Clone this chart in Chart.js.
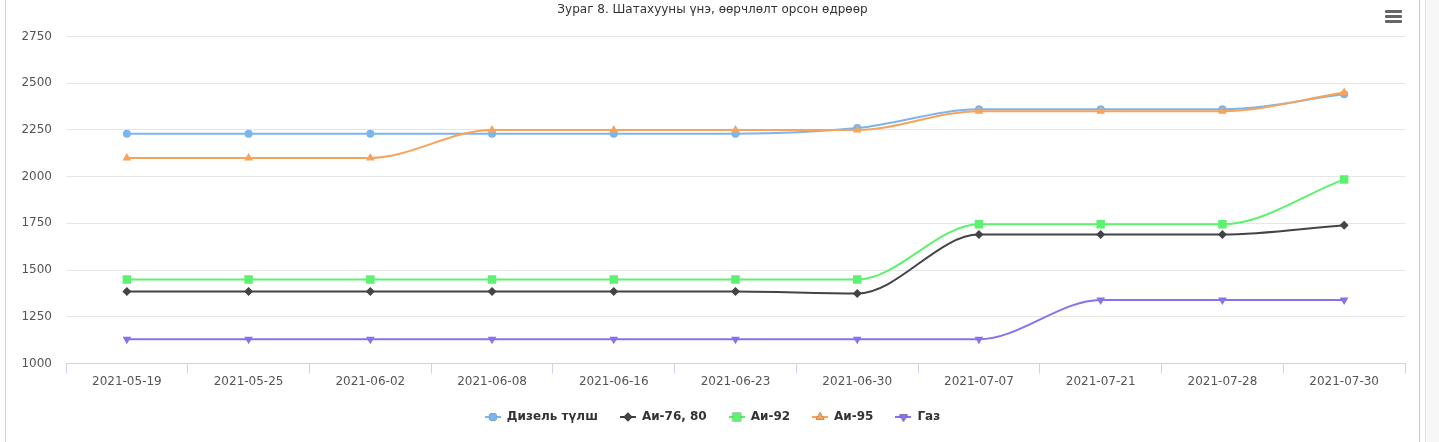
<!DOCTYPE html>
<html>
<head>
<meta charset="utf-8">
<script src="https://cdn.jsdelivr.net/npm/chart.js@4.4.1/dist/chart.umd.min.js"></script>
<style>
  html, body { margin: 0; padding: 0; background: #fff; }
  body { width: 1439px; height: 442px; position: relative; overflow: hidden; font-family: "DejaVu Sans", Verdana, sans-serif; }
  #frame { position: absolute; left: 5px; top: 0; width: 1413px; height: 442px; border-left: 1px solid #d6d6d6; border-right: 1px solid #c8c8c8; }
  #side { position: absolute; left: 1425px; top: 0; width: 14px; height: 442px; background: #f7f7f7; border-left: 1px solid #e4e4e4; }
  #wrap { position: absolute; left: 0; top: 0; width: 1413px; height: 442px; }
  #menu { position: absolute; left: 1379px; top: 10px; width: 17px; }
  #menu span { display: block; height: 2.5px; background: #666; margin-bottom: 2.5px; border-radius: 1px; }
</style>
</head>
<body>
<div id="frame">
  <div id="wrap"><canvas id="fuelChart"></canvas></div>
  <div id="menu"><span></span><span></span><span></span></div>
</div>
<div id="side"></div>
<script>
// огноо
const dates = ['2021-05-19', '2021-05-25', '2021-06-02', '2021-06-08', '2021-06-16', '2021-06-23',
               '2021-06-30', '2021-07-07', '2021-07-21', '2021-07-28', '2021-07-30'];

const diesel = [2230, 2230, 2230, 2230, 2230, 2230, 2260, 2360, 2360, 2360, 2440];
const ai76   = [1385, 1385, 1385, 1385, 1385, 1385, 1375, 1690, 1690, 1690, 1740];
const ai92   = [1450, 1450, 1450, 1450, 1450, 1450, 1450, 1745, 1745, 1745, 1985];
const ai95   = [2100, 2100, 2100, 2250, 2250, 2250, 2250, 2350, 2350, 2350, 2450];
const gas    = [1130, 1130, 1130, 1130, 1130, 1130, 1130, 1130, 1340, 1340, 1340];

const yTicks = [1000, 1250, 1500, 1750, 2000, 2250, 2500, 2750];

const seriesNames  = ['Дизель түлш', 'Аи-76, 80', 'Аи-92', 'Аи-95', 'Газ'];
const seriesColors = ['#7cb5ec', '#434348', '#5cf26f', '#f7a35c', '#8473ec'];
const markers = [
    { style: 'circle', radius: 4, rotation: 0 },
    { style: 'rectRot', radius: 4.5, rotation: 0 },
    { style: 'rect', radius: 6, rotation: 0 },
    { style: 'triangle', radius: 5, rotation: 0 },
    { style: 'triangle', radius: 5, rotation: 180 }
];

// legend symbol: short line with marker, like the original
function legendSymbol(color, m) {
    const c = document.createElement('canvas');
    c.width = 16; c.height = 12;
    const g = c.getContext('2d');
    g.strokeStyle = color; g.lineWidth = 2;
    g.beginPath(); g.moveTo(0, 6); g.lineTo(16, 6); g.stroke();
    Chart.helpers.drawPoint(g, { pointStyle: m.style, radius: m.radius, rotation: m.rotation, borderWidth: 0 }, 8, 6);
    g.fillStyle = color;
    g.fill();
    return c;
}

const allSeries = [diesel, ai76, ai92, ai95, gas];

const ctx = document.getElementById('fuelChart').getContext('2d');
const fuelChart = new Chart(ctx, {
    type: 'line',
    data: {
        labels: dates,
        datasets: allSeries.map((vals, i) => ({
            label: seriesNames[i],
            data: vals,
            borderColor: seriesColors[i],
            backgroundColor: seriesColors[i],
            borderWidth: 2,
            pointStyle: markers[i].style,
            pointRadius: markers[i].radius,
            pointRotation: markers[i].rotation,
            pointBorderWidth: 0,
            cubicInterpolationMode: 'monotone',
            order: 4 - i,
            fill: false
        }))
    },
    options: {
        responsive: true,
        maintainAspectRatio: false,
        animation: false,
        layout: { padding: { left: 14, right: 14, top: 0, bottom: 9 } },
        plugins: {
            title: {
                display: true,
                text: 'Зураг 8. Шатахууны үнэ, өөрчлөлт орсон өдрөөр',
                color: '#333333',
                font: { family: 'DejaVu Sans', size: 12, weight: 'normal' },
                padding: { top: 3, bottom: 19 }
            },
            legend: {
                position: 'bottom',
                labels: {
                    usePointStyle: true,
                    pointStyleWidth: 16,
                    padding: 22,
                    color: '#333333',
                    font: { family: 'DejaVu Sans', size: 12, weight: 'bold' },
                    sort: (a, b) => a.datasetIndex - b.datasetIndex,
                    generateLabels: (chart) => chart.data.datasets.map((ds, i) => ({
                        text: ds.label,
                        datasetIndex: i,
                        fillStyle: ds.borderColor,
                        strokeStyle: ds.borderColor,
                        fontColor: '#333333',
                        lineWidth: 0,
                        hidden: false,
                        pointStyle: legendSymbol(seriesColors[i], markers[i])
                    }))
                }
            },
            tooltip: { enabled: false }
        },
        scales: {
            x: {
                offset: true,
                afterFit: (scale) => { scale.height -= 1; },
                grid: {
                    offset: true,
                    drawOnChartArea: false,
                    drawTicks: true,
                    tickLength: 10,
                    color: '#ccd6eb'
                },
                border: { display: true, color: '#ccd6eb' },
                ticks: {
                    color: '#555555',
                    font: { family: 'DejaVu Sans', size: 12 },
                    padding: 1,
                    maxRotation: 0,
                    autoSkip: false
                }
            },
            y: {
                min: 1000,
                max: 2750,
                afterFit: (scale) => { scale.width = 46; },
                afterBuildTicks: (scale) => { scale.ticks = yTicks.map(v => ({ value: v })); },
                grid: { color: '#e6e6e6', drawTicks: false },
                border: { display: false },
                ticks: {
                    color: '#555555',
                    font: { family: 'DejaVu Sans', size: 12 },
                    padding: 14,
                    callback: (v) => String(v)
                }
            }
        }
    }
});
</script>
</body>
</html>
